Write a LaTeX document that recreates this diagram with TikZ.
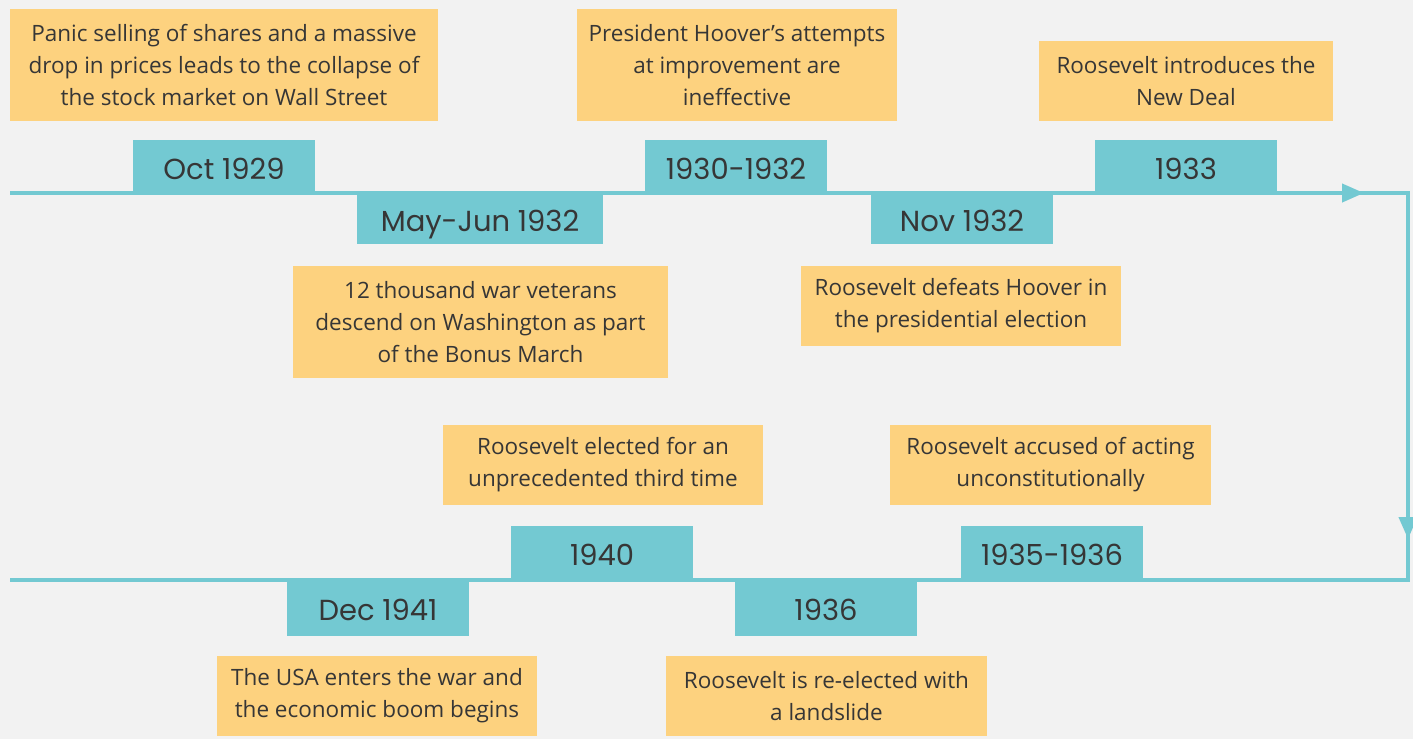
\documentclass[tikz,border=0pt]{standalone}
\usepackage{fontspec}
\setmainfont{Open Sans}
\newfontfamily\datefont{Poppins}
\usetikzlibrary{arrows.meta}
\definecolor{bgc}{HTML}{F2F2F2}
\definecolor{teal}{HTML}{73C9D2}
\definecolor{orng}{HTML}{FDD27F}
\definecolor{txt}{HTML}{363636}
\begin{document}
\begin{tikzpicture}[x=1pt,y=-1pt,
  datebox/.style={fill=teal,inner sep=0pt,minimum width=182pt,text=txt,
    text height=25pt,text depth=0pt,
    font=\datefont\fontsize{29}{32}\selectfont},
  notebox/.style={fill=orng,inner sep=0pt,text=txt,align=center,
    font=\fontsize{22.5}{32}\selectfont},
  tline/.style={draw=teal,line width=4pt},
  tip/.style={draw=teal,line width=4pt,-{Triangle[length=22pt,width=18pt]}}
]
\fill[bgc] (0,0) rectangle (1413,739);
\useasboundingbox (0,0) rectangle (1413,739);
% timeline
\coordinate (s) at (10,193);
\coordinate (c1) at (1408,193);
\coordinate (c2) at (1408,580);
\coordinate (e) at (10,580);
\coordinate (a1) at (1330,193);
\coordinate (a1e) at (1364,193);
\coordinate (a2) at (1408,505);
\coordinate (a2e) at (1408,539);
\draw[tline,line join=miter] (s) -- (c1) -- (c2) -- (e);
\draw[tip] (a1) -- (a1e);
\draw[tip] (a2) -- (a2e);
% dates
\node[datebox,minimum height=53pt] (oct) at (224,166.5) {Oct 1929};
\node[datebox,minimum height=51pt,minimum width=246pt] (mayjun) at (480,218.5) {May-Jun 1932};
\node[datebox,minimum height=53pt] (y3032) at (736,166.5) {1930-1932};
\node[datebox,minimum height=51pt] (nov) at (962,218.5) {Nov 1932};
\node[datebox,minimum height=53pt] (y33) at (1186,166.5) {1933};
\node[datebox,minimum height=54pt] (y40) at (602,553) {1940};
\node[datebox,minimum height=56pt] (dec) at (378,608) {Dec 1941};
\node[datebox,minimum height=56pt] (y36) at (826,608) {1936};
\node[datebox,minimum height=54pt] (y3536) at (1052,553) {1935-1936};
% notes
\node[notebox,minimum width=428pt,minimum height=112pt] (n1) at (224,65)
  {Panic selling of shares and a massive\\drop in prices leads to the collapse of\\the stock market on Wall Street};
\node[notebox,minimum width=320pt,minimum height=112pt] (n2) at (737,65)
  {President Hoover’s attempts\\at improvement are\\ineffective};
\node[notebox,minimum width=294pt,minimum height=80pt] (n3) at (1186,81)
  {Roosevelt introduces the\\New Deal};
\node[notebox,minimum width=375pt,minimum height=112pt] (n4) at (480.5,322)
  {12 thousand war veterans\\descend on Washington as part\\of the Bonus March};
\node[notebox,minimum width=320pt,minimum height=80pt] (n5) at (961,306)
  {Roosevelt defeats Hoover in\\the presidential election};
\node[notebox,minimum width=320pt,minimum height=80pt] (n6) at (603,465)
  {Roosevelt elected for an\\unprecedented third time};
\node[notebox,minimum width=321pt,minimum height=80pt] (n7) at (1050.5,465)
  {Roosevelt accused of acting\\unconstitutionally};
\node[notebox,minimum width=320pt,minimum height=80pt] (n8) at (377,696)
  {The USA enters the war and\\the economic boom begins};
\node[notebox,minimum width=321pt,minimum height=80pt] (n9) at (826.5,696)
  {Roosevelt is re-elected with\\a landslide};
\end{tikzpicture}
\end{document}
